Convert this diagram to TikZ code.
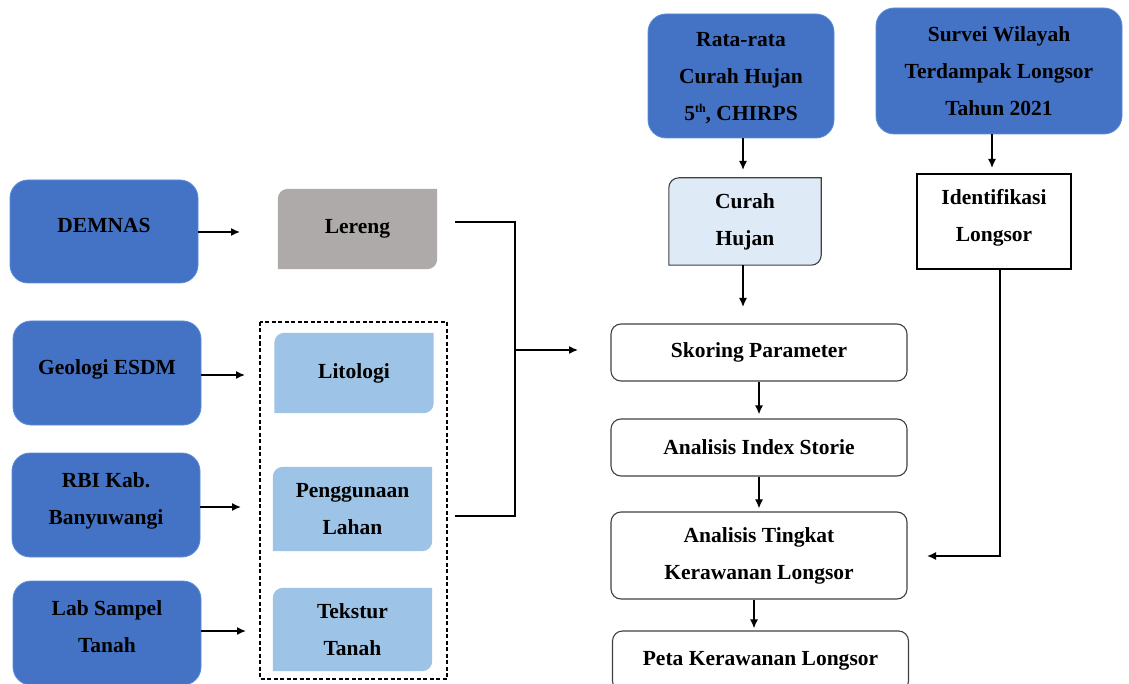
\documentclass[tikz,border=0pt]{standalone}
\usepackage{fontspec}
\setmainfont{Liberation Serif}
\usetikzlibrary{arrows.meta}
\usetikzlibrary{calc}
\usetikzlibrary{positioning}

\definecolor{srcblue}{HTML}{4472C4}
\definecolor{srcedge}{HTML}{5B8ED6}
\definecolor{slopegray}{HTML}{AEAAAA}
\definecolor{paramblue}{HTML}{9DC3E6}
\definecolor{rainblue}{HTML}{DEEBF7}
\definecolor{edgegray}{HTML}{404040}

\pgfdeclarelayer{bg}
\pgfsetlayers{bg,main}

% box with rounded top-left and bottom-right corners, drawn behind a node
\newcommand{\diagbox}[2]{%
  \begin{pgfonlayer}{bg}
  \path[#2] (#1.south west) -- ($(#1.north west)+(0,10)$) arc[start angle=180,end angle=270,radius=10]
    -- (#1.north east) -- ($(#1.south east)+(0,-10)$) arc[start angle=0,end angle=90,radius=10] -- cycle;
  \end{pgfonlayer}}

\tikzset{
  srcbox/.style={fill=srcblue, draw=srcedge, line width=0.8pt, rounded corners=18pt, align=center},
  parbox/.style={align=center, minimum width=159pt},
  stepbox/.style={draw=edgegray, line width=1.1pt, rounded corners=10pt, align=center, minimum width=296pt},
  flow/.style={-{Latex[length=9pt,width=8pt]}, line width=1.5pt},
}

\begin{document}
\begin{tikzpicture}[x=1pt,y=-1pt,font=\fontsize{21.5}{37}\selectfont\bfseries]
    \useasboundingbox (0,0) rectangle (1129,684);
    \clip (0,0) rectangle (1129,684);

    % data sources
    \node[srcbox, minimum width=188pt, minimum height=103pt, text depth=12pt] (demnas) at (104,231.5) {DEMNAS};
    \node[srcbox, minimum width=188pt, minimum height=104pt, text depth=12.7pt] (geologi) at (107,373) {Geologi ESDM};
    \node[srcbox, minimum width=188pt, minimum height=104pt, text depth=12.7pt] (rbi) at (106,505) {RBI Kab.\\Banyuwangi};
    \node[srcbox, minimum width=188pt, minimum height=104pt, text depth=12pt] (lab) at (107,633) {Lab Sampel\\Tanah};
    \node[srcbox, minimum width=186pt, minimum height=124pt, text depth=-5pt] (rata) at (741,76) {Rata-rata\\Curah Hujan\\5\raisebox{8pt}{\fontsize{12}{12}\selectfont th}, CHIRPS};
    \node[srcbox, minimum width=246pt, minimum height=126pt] (survei) at (999,71) {Survei Wilayah\\Terdampak Longsor\\Tahun 2021};

    % parameters
    \node[parbox, minimum height=80pt] (lereng) at (357.5,229) {Lereng};
    \diagbox{lereng}{fill=slopegray}
    \node[parbox, minimum height=80pt] (litologi) at (354,373) {Litologi};
    \diagbox{litologi}{fill=paramblue}
    \node[parbox, minimum height=84pt, text depth=-6pt] (guna) at (352.5,509) {Penggunaan\\Lahan};
    \diagbox{guna}{fill=paramblue}
    \node[parbox, minimum height=83pt] (tekstur) at (352.5,629.5) {Tekstur\\Tanah};
    \diagbox{tekstur}{fill=paramblue}
    \draw[dash pattern=on 4pt off 2.5pt, line width=1.2pt] (260,322) rectangle (447,679);

    \node[align=center, minimum width=152pt, minimum height=87pt] (hujan) at (745,221.5) {Curah\\Hujan};
    \diagbox{hujan}{fill=rainblue, draw=edgegray, line width=1.1pt}
    \node[draw, line width=1.2pt, align=center, minimum width=154pt, minimum height=95pt, text depth=12.7pt] (ident) at (994,221.5) {Identifikasi\\Longsor};

    % analysis steps
    \node[stepbox, minimum height=57pt] (skoring) at (759,352.5) {Skoring Parameter};
    \node[stepbox, minimum height=57pt] (storie) at (759,447.5) {Analisis Index Storie};
    \node[stepbox, minimum height=87pt] (tingkat) at (759,555.5) {Analisis Tingkat\\Kerawanan Longsor};
    \node[stepbox, minimum height=60pt] (peta) at (760.5,661) {Peta Kerawanan Longsor};

    % arrows
    \coordinate (demnasout) at (240,232);
    \coordinate (geologiout) at (245,375);
    \coordinate (rbiout) at (241,507);
    \coordinate (labout) at (246,631);
    \draw[flow] (demnas.east |- demnasout) -- (demnasout);
    \draw[flow] (geologi.east |- geologiout) -- (geologiout);
    \draw[flow] (rbi.east |- rbiout) -- (rbiout);
    \draw[flow] (lab.east |- labout) -- (labout);

    \coordinate (lerengout) at (455,222);
    \coordinate (gunaout) at (455,516);
    \coordinate (join) at (515,350);
    \coordinate (joinend) at (578,350);
    \draw[line width=1.5pt] (lerengout) -| (join) |- (gunaout);
    \draw[flow] (join) -- (joinend);

    \coordinate (hujanin) at (743,170);
    \coordinate (surveiout) at (992,168);
    \coordinate (skoringin) at (743,307);
    \coordinate (tingkatin) at (927,556);
    \draw[flow] (rata.south -| hujanin) -- (hujanin);
    \draw[flow] (survei.south -| surveiout) -- (surveiout);
    \draw[flow] (hujan.south -| skoringin) -- (skoringin);
    \draw[flow, shorten >=4pt] (skoring) -- (storie);
    \draw[flow, shorten >=3pt] (storie) -- (tingkat);
    \draw[flow, shorten >=2pt] ($(tingkat.south)+(-5,0)$) -- ($(peta.north)+(-6.5,0)$);
    \draw[flow] ($(ident.south)+(6,0)$) |- (tingkatin);

\end{tikzpicture}
\end{document}
